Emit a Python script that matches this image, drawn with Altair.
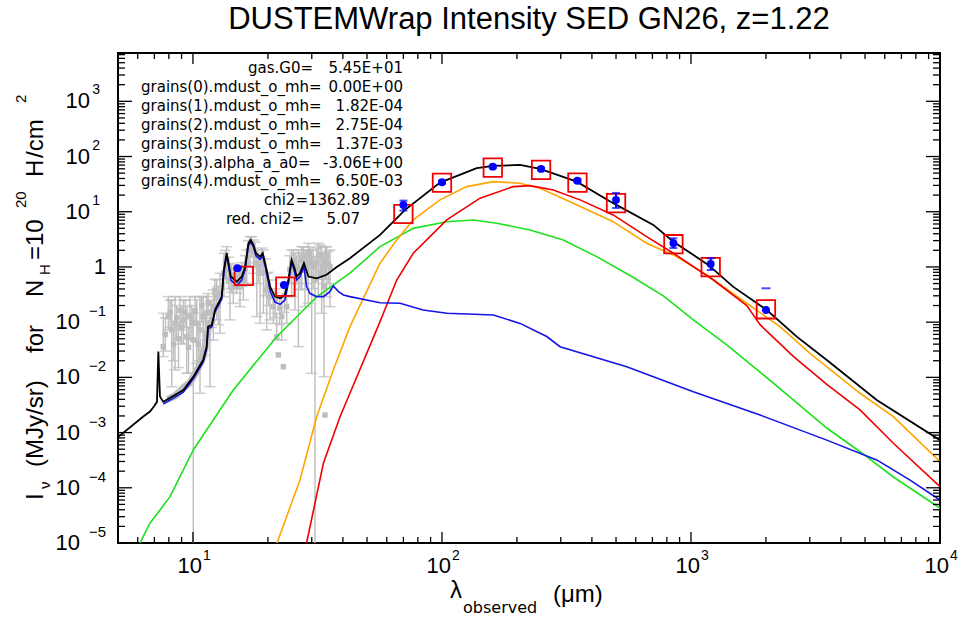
import altair as alt
import pandas as pd

# ---------------- data (wavelength in micron, intensity in MJy/sr) ----------------
black_lam = [5.0, 6.32, 6.72, 6.98, 7.17, 7.26, 7.37, 7.6, 9.15, 10.03, 11.0, 11.35, 11.5, 11.9,
             12.26, 12.45, 13.05, 13.3, 13.66, 13.9, 14.2, 15.0, 15.7, 16.2, 16.7, 17.06, 17.5,
             17.9, 18.6, 19.06, 19.65, 20.4, 21.35, 22.4, 23.4, 24.15, 24.9, 25.5, 26.1, 26.9,
             27.9, 29.06, 31.4, 34.4, 37.8, 42.7, 56.4, 71.1, 98.2, 137.9, 160.8, 205.8, 247.7,
             347.7, 487, 706, 850, 1174, 1475, 2015, 2659, 3510, 5570, 10000]
black_flux = [8.3e-4, 1.95e-3, 2.4e-3, 3.0e-3, 3.6e-3, 0.0295, 4.5e-3, 3.6e-3, 5.9e-3, 0.0102,
              0.021, 0.036, 0.083, 0.089, 0.166, 0.19, 0.29, 0.88, 1.77, 1.17, 0.67, 0.54, 0.67,
              1.0, 2.7, 3.08, 2.5, 1.77, 1.54, 1.77, 1.0, 0.44, 0.29, 0.27, 0.31, 0.58, 1.34, 1.0,
              0.67, 0.77, 1.17, 0.67, 0.62, 0.72, 1.0, 1.44, 3.8, 10.8, 33.7, 61.4, 67.6, 70.5,
              59.6, 35.1, 14.3, 5.77, 2.87, 1.09, 0.44, 0.166, 0.0546, 0.0207, 3.9e-3, 7.3e-4]

blue_lam = [7.6, 9.15, 10.03, 11.0, 11.35, 11.5, 11.9, 12.26, 12.45, 13.05, 13.3, 13.66, 13.9,
            14.2, 15.0, 15.7, 16.2, 16.7, 17.06, 17.5, 17.9, 18.6, 19.06, 19.65, 20.4, 21.35,
            22.4, 23.4, 24.15, 24.91, 26.1, 26.9, 27.9, 28.6, 29.5, 31.4, 33.4, 35.5, 36.6, 38.4,
            40.2, 42.7, 56.4, 67.9, 83.9, 104.8, 160.8, 205.8, 263.5, 298, 552, 1022, 1894,
            3510, 5570, 7580, 10000]
blue_flux = [3.3e-3, 5.4e-3, 9.4e-3, 0.019, 0.033, 0.076, 0.082, 0.152, 0.175, 0.26, 0.8, 1.62,
             1.05, 0.58, 0.46, 0.58, 0.9, 2.45, 2.85, 2.3, 1.6, 1.38, 1.6, 0.88, 0.37, 0.23, 0.21,
             0.25, 0.5, 1.25, 0.58, 0.668, 1.01, 0.44, 0.333, 0.29, 0.29, 0.357, 0.453, 0.357,
             0.311, 0.29, 0.225, 0.22, 0.166, 0.145, 0.135, 0.095, 0.055, 0.036, 0.0156, 5.5e-3,
             2.08e-3, 7.3e-4, 3.2e-4, 1.38e-4, 6.0e-5]

green_lam = [6.13, 6.72, 8.09, 10.03, 14.52, 21.7, 31.4, 42.7, 56.4, 76.7, 104.5, 133.6, 166,
             225.7, 307, 418, 569, 774, 1022, 1392, 1894, 2576, 3510, 4774, 6496, 10000]
green_flux = [1e-5, 2.28e-5, 6.9e-5, 4.84e-4, 5.9e-3, 0.0546, 0.288, 0.77, 2.33, 5.0, 6.6, 7.1,
              6.2, 4.68, 3.08, 1.54, 0.7, 0.3, 0.11, 0.0386, 0.0125, 3.9e-3, 1.21e-3, 4.5e-4,
              1.57e-4, 4.3e-5]

orange_lam = [21.75, 26.9, 31.4, 36.6, 42.7, 56.4, 65.8, 76.7, 98.2, 125.7, 160.8, 205.8, 247.7,
              336.6, 487, 663.6, 850, 1157, 1675, 2278, 3006, 4774, 6496, 10000]
orange_flux = [1e-5, 1.38e-4, 1.94e-3, 0.0136, 0.083, 1.17, 3.08, 7.1, 16.4, 28.5, 35.1, 32.8,
               26.7, 14.3, 6.6, 2.69, 1.65, 0.716, 0.22, 0.083, 0.0273, 5.15e-3, 1.94e-3, 2.97e-4]

red_lam = [28.6, 33.4, 38.96, 42.7, 56.4, 65.8, 76.7, 104.5, 142.2, 193.4, 225.7, 280, 358.5,
           487, 663.6, 850, 1230, 1675, 1894, 2576, 3510, 4774, 6496, 10000]
red_flux = [1e-5, 2.78e-4, 1.94e-3, 5.15e-3, 0.102, 0.58, 1.77, 7.1, 17.6, 28.5, 29.7, 24.8, 16.4,
            8.75, 3.54, 1.77, 0.58, 0.2, 0.09, 0.024, 7.5e-3, 2.57e-3, 6.4e-4, 1.05e-4]

# observed photometry (blue) and model band values (red boxes)
obs_lam = [15.1, 23.2, 70, 100, 160, 250, 350, 500, 850, 1200, 2000]
obs_flux = [0.95, 0.47, 13.3, 34.2, 65.6, 59.6, 36.5, 16.4, 2.69, 1.13, 0.166]
obs_lo = [0.95, 0.47, 10.5, 32.0, 62.0, 56.0, 34.0, 11.7, 2.2, 0.88, 0.166]
obs_hi = [0.95, 0.47, 15.9, 36.5, 69.0, 63.0, 39.0, 21.9, 3.3, 1.44, 0.166]
obs_cap_lam = [2000]
obs_cap_flux = [0.41]
box_lam = [16.0, 23.5, 70, 100, 160, 250, 350, 500, 850, 1200, 2000]
box_flux = [0.69, 0.44, 9.1, 33.5, 63, 57.2, 33.6, 14.3, 2.58, 0.99, 0.171]

# IRS spectrum (grey points with error bars)
grey_lam = [7.60, 7.96, 8.22, 8.47, 8.87, 9.15, 9.44, 9.73, 10.03, 10.35, 10.67, 11.0, 11.35,
            11.70, 12.07, 12.45, 12.84,
            7.75, 8.1, 8.35, 8.6, 8.75, 9.0, 9.3, 9.6, 9.9, 10.2, 10.5, 10.85, 11.2, 11.5,
            11.85, 12.25, 12.65,
            13.32, 13.66, 14.09, 14.53, 14.98, 15.45, 15.94, 16.44, 16.95, 17.49, 18.04, 18.60,
            19.18, 19.77, 20.39,
            13.5, 13.9, 14.3, 14.75, 15.2, 15.7, 16.2, 16.7, 17.2, 17.75, 18.3, 18.9, 19.5, 20.1,
            21.03, 21.69, 22.72, 23.79, 21.4, 22.3, 23.3,
            24.91, 25.70, 26.51, 27.34, 28.18, 29.07, 29.98, 30.91, 31.88, 32.87, 33.59, 34.43,
            35.51,
            24.5, 25.3, 26.1, 26.9, 27.8, 28.6, 29.5, 30.4, 31.4, 32.4, 33.2, 34.0, 35.0]
grey_flux = [0.0361, 0.126, 0.0721, 0.0953, 0.166, 0.110, 0.0547, 0.126, 0.0475, 0.0953, 0.0721,
             0.126, 0.145, 0.0953, 0.191, 0.29, 0.333,
             0.06, 0.15, 0.04, 0.12, 0.05, 0.08, 0.15, 0.035, 0.1, 0.16, 0.04, 0.2, 0.06, 0.22,
             0.15, 0.38, 0.2,
             0.767, 1.34, 0.581, 0.44, 0.581, 0.44, 0.581, 1.16, 2.33, 2.03, 1.16, 0.767, 1.16,
             0.383, 0.29,
             1.2, 0.9, 0.7, 0.6, 0.65, 0.75, 0.95, 2.0, 2.6, 1.8, 1.0, 1.4, 0.8, 0.45,
             0.191, 0.0547, 0.126, 0.191, 0.25, 0.18, 0.3,
             1.16, 1.01, 0.668, 1.34, 0.88, 1.77, 1.16, 0.581, 1.54, 0.767, 0.44, 1.54, 1.01,
             0.9, 1.3, 1.0, 0.9, 1.5, 1.1, 1.4, 1.0, 1.2, 1.6, 1.0, 1.3, 1.1]
grey_lo = [0.0237, 0.0721, 0.00679, 0.0136, 0.0721, 0.0414, 0.0118, 0.0475, 9e-6, 0.018, 0.00514,
           0.0313, 0.0475, 0.00679, 0.0475, 0.110, 0.0628,
           0.03, 0.08, 0.02, 0.05, 0.015, 0.04, 0.08, 0.012, 0.05, 0.09, 0.02, 0.1, 0.025, 0.14,
           0.08, 0.2, 0.09,
           0.29, 0.506, 0.110, 0.219, 0.333, 0.191, 0.252, 0.506, 1.01, 0.767, 0.126, 0.0953,
           0.145, 0.0721, 0.110,
           0.6, 0.4, 0.35, 0.4, 0.4, 0.45, 0.5, 1.2, 1.5, 1.0, 0.5, 0.8, 0.3, 0.2,
           0.0953, 0.0475, 0.0475, 0.0953, 0.12, 0.09, 0.15,
           0.29, 0.166, 0.0361, 0.383, 0.191, 0.219, 0.0118, 9e-6, 0.29, 0.145, 0.0103, 0.29,
           0.191,
           0.5, 0.7, 0.5, 0.4, 0.8, 0.5, 0.7, 0.4, 0.6, 0.8, 0.5, 0.6, 0.5]
grey_hi = [0.145, 0.29, 0.252, 0.29, 0.29, 0.252, 0.191, 0.29, 0.145, 0.252, 0.29, 0.29, 0.29,
           0.166, 0.383, 0.581, 0.767,
           0.12, 0.25, 0.08, 0.2, 0.1, 0.15, 0.25, 0.08, 0.2, 0.29, 0.09, 0.29, 0.12, 0.33,
           0.25, 0.6, 0.45,
           1.77, 2.33, 1.16, 0.767, 0.88, 0.88, 1.01, 2.03, 3.54, 3.08, 2.03, 1.54, 2.03, 0.767,
           0.581,
           2.0, 1.5, 1.1, 0.9, 1.0, 1.2, 1.6, 3.0, 3.5, 2.8, 1.8, 2.2, 1.4, 0.8,
           0.333, 0.145, 0.29, 0.29, 0.4, 0.3, 0.5,
           2.03, 1.77, 2.03, 2.33, 2.03, 2.68, 2.03, 1.54, 2.68, 2.33, 1.77, 2.33, 2.03,
           1.6, 2.0, 1.6, 1.8, 2.3, 2.0, 2.3, 2.0, 2.2, 2.5, 1.8, 2.3, 1.9]
grey_pt_lam = [22.03, 23.07, 33.9]
grey_pt_flux = [0.0255, 0.0156, 0.00208]
# spectrum points that sit right on the model between 7.9 and 12 micron
grey_band_lam = [7.9, 8.47, 9.15, 9.73, 10.35, 11.0, 11.53, 12.07]
grey_band_flux = [0.0040, 0.0046, 0.0065, 0.0080, 0.013, 0.024, 0.075, 0.12]

# axis ticks and labels
xtick_major = [10, 100, 1000]
xtick_minor = [k * 10 ** n for n in range(0, 4) for k in range(2, 10) if 5 < k * 10 ** n < 10000]
xlabel_vals = [10, 100, 1000, 10000]
xlabel_exp = ["1", "2", "3", "4"]
ytick_major = [1e-4, 1e-3, 1e-2, 1e-1, 1, 10, 100, 1000]
ytick_minor = [k * 10.0 ** n for n in range(-5, 4) for k in range(2, 10) if k * 10.0 ** n < 7500]
ylabel_pos_vals = [10, 100, 1000]
ylabel_pos_exp = ["1", "2", "3"]
ylabel_neg_vals = [1e-1, 1e-2, 1e-3, 1e-4, 1e-5]
ylabel_neg_exp = ["\u22121", "\u22122", "\u22123", "\u22124", "\u22125"]

param_names = ["gas.G0=", "grains(0).mdust_o_mh=", "grains(1).mdust_o_mh=",
               "grains(2).mdust_o_mh=", "grains(3).mdust_o_mh=", "grains(3).alpha_a_a0=",
               "grains(4).mdust_o_mh="]
param_values = ["5.45E+01", "0.00E+00", "1.82E-04", "2.75E-04", "1.37E-03", "-3.06E+00",
                "6.50E-03"]
chi2_text = "chi2=1362.89"
redchi2_label = "red. chi2="
redchi2_value = "5.07"
title_text = "DUSTEMWrap Intensity SED GN26, z=1.22"

# ---------------- chart ----------------
W, H = 822, 490
FONT = "Liberation Sans"
AFONT = "DejaVu Sans"
BLACK, BLUE, GREEN, ORANGE, RED, GREY = "#000000", "#1414e6", "#1ee01e", "#ffa500", "#f00000", "#bebebe"

xs = alt.Scale(type="log", domain=[5, 10000], nice=False)
ys = alt.Scale(type="log", domain=[1e-5, 7500], nice=False)


def X(f):
    return alt.X(f, type="quantitative", scale=xs, axis=None)


def Y(f):
    return alt.Y(f, type="quantitative", scale=ys, axis=None)


def curve(lam, flux, color, width=1.6):
    df = pd.DataFrame({"lam": lam, "flux": flux})
    return alt.Chart(df).mark_line(color=color, strokeWidth=width, clip=True).encode(
        x=X("lam"), y=Y("flux"))


one = pd.DataFrame({"k": [0]})


def label(text, x, y, size, align="left", angle=None, baseline="middle", font=FONT):
    kw = dict(font=font, fontSize=size, align=align, baseline=baseline, color="black")
    if angle is not None:
        kw["angle"] = angle
    return alt.Chart(one).mark_text(**kw).encode(
        x=alt.value(x), y=alt.value(y), text=alt.value(text))


layers = []

# grey spectrum
layers.append(curve(grey_band_lam, grey_band_flux, GREY, 7))
gdf = pd.DataFrame({"lam": grey_lam, "flux": grey_flux, "lo": grey_lo, "hi": grey_hi})
layers.append(alt.Chart(gdf).mark_rule(color=GREY, strokeWidth=1.4, clip=True).encode(
    x=X("lam"), y=Y("lo"), y2="hi"))
layers.append(alt.Chart(gdf).mark_tick(color=GREY, orient="horizontal", size=11, thickness=1.6,
                                       clip=True).encode(x=X("lam"), y=Y("hi")))
layers.append(alt.Chart(gdf).mark_tick(color=GREY, orient="horizontal", size=11, thickness=1.6,
                                       clip=True).encode(x=X("lam"), y=Y("lo")))
layers.append(alt.Chart(gdf).mark_square(color=GREY, size=30, opacity=1, clip=True).encode(
    x=X("lam"), y=Y("flux")))
gpdf = pd.DataFrame({"lam": grey_pt_lam, "flux": grey_pt_flux})
layers.append(alt.Chart(gpdf).mark_square(color=GREY, size=30, opacity=1, clip=True).encode(
    x=X("lam"), y=Y("flux")))

# model components
layers.append(curve(green_lam, green_flux, GREEN))
layers.append(curve(orange_lam, orange_flux, ORANGE))
layers.append(curve(red_lam, red_flux, RED))
layers.append(curve(blue_lam, blue_flux, BLUE))
layers.append(curve(black_lam, black_flux, BLACK, 1.8))

# model band values (red squares)
bdf = pd.DataFrame({"lam": box_lam, "flux": box_flux})
layers.append(alt.Chart(bdf).mark_square(filled=False, stroke=RED, strokeWidth=1.8, size=340,
                                         opacity=1).encode(x=X("lam"), y=Y("flux")))

# observations
odf = pd.DataFrame({"lam": obs_lam, "flux": obs_flux, "lo": obs_lo, "hi": obs_hi})
layers.append(alt.Chart(odf).mark_rule(color="#0000ff", strokeWidth=2).encode(
    x=X("lam"), y=Y("lo"), y2="hi"))
layers.append(alt.Chart(odf).mark_tick(color="#0000ff", orient="horizontal", size=8,
                                       thickness=2).encode(x=X("lam"), y=Y("hi")))
layers.append(alt.Chart(odf).mark_tick(color="#0000ff", orient="horizontal", size=8,
                                       thickness=2).encode(x=X("lam"), y=Y("lo")))
layers.append(alt.Chart(odf).mark_circle(color="#0000ff", size=62, opacity=1).encode(
    x=X("lam"), y=Y("flux")))
cdf = pd.DataFrame({"lam": obs_cap_lam, "flux": obs_cap_flux})
layers.append(alt.Chart(cdf).mark_tick(color="#0000ff", orient="horizontal", size=9,
                                       thickness=2).encode(x=X("lam"), y=Y("flux")))

# inward ticks on all four sides
xmaj = pd.DataFrame({"v": xtick_major})
xmin = pd.DataFrame({"v": xtick_minor})
ymaj = pd.DataFrame({"v": ytick_major})
ymin = pd.DataFrame({"v": ytick_minor})
for df, ln in ((xmaj, 11), (xmin, 6)):
    layers.append(alt.Chart(df).mark_rule(color="black", strokeWidth=1.3).encode(
        x=X("v"), y=alt.value(H), y2=alt.value(H - ln)))
    layers.append(alt.Chart(df).mark_rule(color="black", strokeWidth=1.3).encode(
        x=X("v"), y=alt.value(0), y2=alt.value(ln)))
for df, ln in ((ymaj, 14), (ymin, 7)):
    layers.append(alt.Chart(df).mark_rule(color="black", strokeWidth=1.3).encode(
        y=Y("v"), x=alt.value(0), x2=alt.value(ln)))
    layers.append(alt.Chart(df).mark_rule(color="black", strokeWidth=1.3).encode(
        y=Y("v"), x=alt.value(W), x2=alt.value(W - ln)))

# tick labels
xl = pd.DataFrame({"v": xlabel_vals, "e": xlabel_exp})
layers.append(alt.Chart(xl).mark_text(font=FONT, fontSize=22, align="right", baseline="middle",
                                      dx=9, color="black").encode(
    x=X("v"), y=alt.value(H + 23), text=alt.value("10")))
layers.append(alt.Chart(xl).mark_text(font=FONT, fontSize=14, align="left", baseline="middle",
                                      dx=10, color="black").encode(
    x=X("v"), y=alt.value(H + 13), text="e:N"))
ylp = pd.DataFrame({"v": ylabel_pos_vals, "e": ylabel_pos_exp})
layers.append(alt.Chart(ylp).mark_text(font=FONT, fontSize=22, align="right", baseline="middle",
                                       color="black").encode(
    y=Y("v"), x=alt.value(-28), text=alt.value("10")))
layers.append(alt.Chart(ylp).mark_text(font=FONT, fontSize=14, align="right", baseline="middle",
                                       dy=-11, color="black").encode(
    y=Y("v"), x=alt.value(-18), text="e:N"))
yln = pd.DataFrame({"v": ylabel_neg_vals, "e": ylabel_neg_exp})
layers.append(alt.Chart(yln).mark_text(font=FONT, fontSize=22, align="right", baseline="middle",
                                       color="black").encode(
    y=Y("v"), x=alt.value(-38), text=alt.value("10")))
layers.append(alt.Chart(yln).mark_text(font=FONT, fontSize=15, align="right", baseline="middle",
                                       dy=-11, color="black").encode(
    y=Y("v"), x=alt.value(-12), text="e:N"))
y1 = pd.DataFrame({"v": [1]})
layers.append(alt.Chart(y1).mark_text(font=FONT, fontSize=22, align="right", baseline="middle",
                                      color="black").encode(
    y=Y("v"), x=alt.value(-12), text=alt.value("1")))

# title
layers.append(label(title_text, W / 2, -33, 31, align="center"))

# x axis title
layers.append(label("\u03bb", 332, 538, 24))
layers.append(label("observed", 345, 555, 16, font=AFONT))
layers.append(label("(\u03bcm)", 435, 542, 24))

# y axis title (rotated pieces)
ytitle = [("I", -75, 447, 24), ("\u03bd", -68, 436, 15), ("(MJy/sr)", -75, 414, 24),
          ("for", -75, 300, 24), ("N", -75, 244, 24),
          ("H", -68, 222, 15), ("=10", -75, 207, 24), ("20", -92, 155, 15),
          ("H", -75, 124, 24), ("/cm", -75, 105, 24), ("2", -92, 50, 15)]
for t, x, y, s in ytitle:
    layers.append(label(t, x, y, s, align="left", angle=270, baseline="alphabetic"))

# parameter annotation
name_x = [130, 23, 23, 23, 23, 23, 23]
for i, (n, v, nx) in enumerate(zip(param_names, param_values, name_x)):
    ly = 15 + 18.9 * i
    layers.append(label(n, nx, ly, 15, font=AFONT))
    layers.append(label(v, 285, ly, 15, align="right", font=AFONT))
layers.append(label(chi2_text, 252, 15 + 18.9 * 7, 15, align="right", font=AFONT))
layers.append(label(redchi2_label, 108, 15 + 18.9 * 8, 15, font=AFONT))
layers.append(label(redchi2_value, 242, 15 + 18.9 * 8, 15, align="right", font=AFONT))

chart = alt.layer(*layers).properties(
    width=W, height=H,
    autosize=alt.AutoSizeParams(type="none"),
    padding={"left": 118, "top": 53, "right": 21, "bottom": 76},
    background="white",
).configure_view(stroke="black", strokeWidth=2)

chart.save("out.html", embed_options={"renderer": "svg", "actions": False})
